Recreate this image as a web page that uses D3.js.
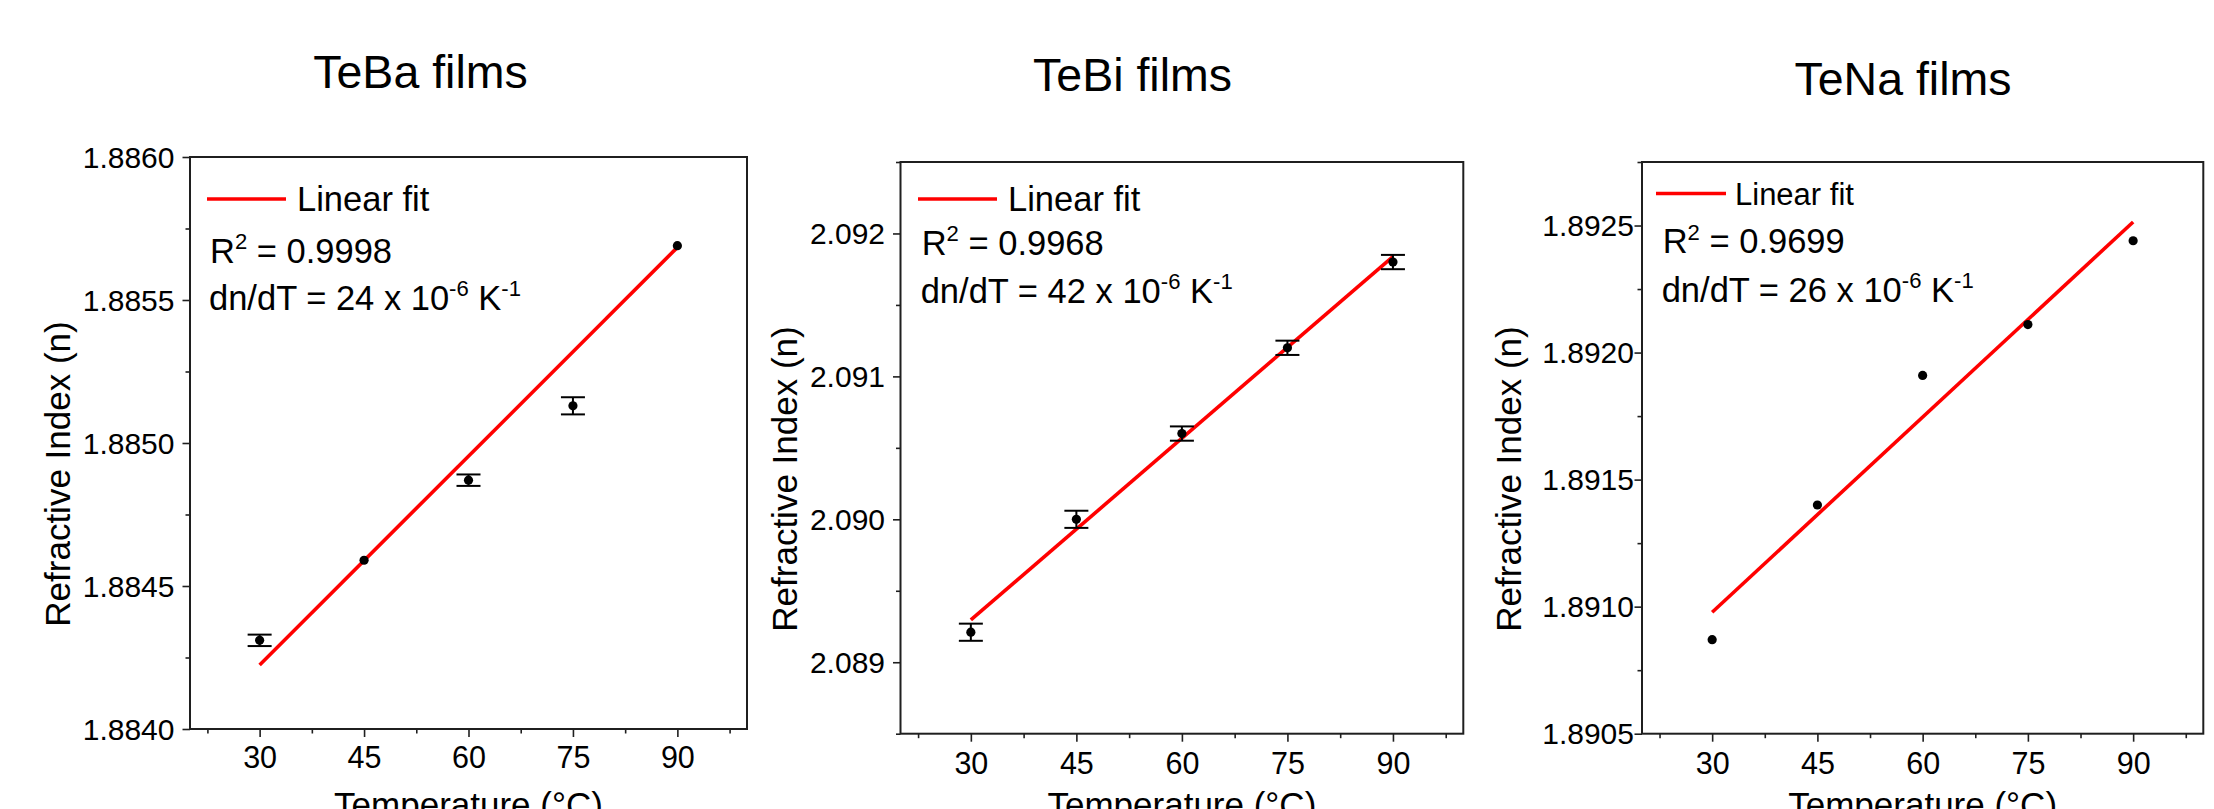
<!DOCTYPE html>
<html>
<head>
<meta charset="utf-8">
<script src="https://cdn.jsdelivr.net/npm/d3@7"></script>
<style>
  html, body { margin: 0; padding: 0; background: #fff; }
  svg { display: block; font-family: Arial, "Liberation Sans", sans-serif; }
  text { white-space: pre; }
</style>
</head>
<body>
<svg id="chart" width="2214" height="809"></svg>
<script>
// temperatures shared by all three films (°C)
const temperatures = [30, 45, 60, 75, 90];
const xTickValues = [30, 45, 60, 75, 90];
const xDomain = [20, 100];
const fitRange = [30, 90];

// TeBa films
const tebaIndex = [1.88431, 1.88459, 1.88487, 1.88513, 1.88569];
const tebaError = [0.00002, 0, 0.00002, 0.00003, 0];
const tebaFit = [1.884224, 1.885684];
const tebaYTicks = [1.8840, 1.8845, 1.8850, 1.8855, 1.8860];
const tebaYDomain = [1.8840, 1.8860];

// TeBi films
const tebiIndex = [2.08921, 2.09000, 2.09060, 2.09120, 2.09180];
const tebiError = [0.00006, 0.00006, 0.00005, 0.00005, 0.00005];
const tebiFit = [2.089296, 2.091838];
const tebiYTicks = [2.089, 2.090, 2.091, 2.092];
const tebiYDomain = [2.0885, 2.0925];

// TeNa films (no error bars)
const tenaIndex = [1.89087, 1.89140, 1.89191, 1.89211, 1.89244];
const tenaError = [0, 0, 0, 0, 0];
const tenaFit = [1.890978, 1.892514];
const tenaYTicks = [1.8905, 1.8910, 1.8915, 1.8920, 1.8925];
const tenaYDomain = [1.8905, 1.89275];

const titles = ["TeBa films", "TeBi films", "TeNa films"];
const rSquared = ["0.9998", "0.9968", "0.9699"];
const dnDT = ["24", "42", "26"];

// layout of each panel (positions only)
const panels = [
  { values: tebaIndex, errors: tebaError, fit: tebaFit, yTicks: tebaYTicks, yDomain: tebaYDomain, yFormat: ".4f",
    left: 190, right: 747, top: 157, bottom: 729,
    titleX: 420.5, titleY: 88, yTitleX: 70, yTitleY: 474, xTitleY: 817,
    yPad: 8, xPad: 9,
    legend: { lx1: 207, lx2: 286, ly: 199, tx: 297, ty: 211, fs: 34.5, rx: 210, ry: 263, dy: 310 } },
  { values: tebiIndex, errors: tebiError, fit: tebiFit, yTicks: tebiYTicks, yDomain: tebiYDomain, yFormat: ".3f",
    left: 900.5, right: 1463.3, top: 162, bottom: 733.7,
    titleX: 1132.5, titleY: 91, yTitleX: 796.5, yTitleY: 479, xTitleY: 817,
    yPad: 8, xPad: 10.5,
    legend: { lx1: 918, lx2: 997, ly: 199, tx: 1008, ty: 211, fs: 34.5, rx: 921.7, ry: 255, dy: 303 } },
  { values: tenaIndex, errors: tenaError, fit: tenaFit, yTicks: tenaYTicks, yDomain: tenaYDomain, yFormat: ".4f",
    left: 1642, right: 2203.3, top: 162, bottom: 733.7,
    titleX: 1903, titleY: 95, yTitleX: 1521, yTitleY: 479, xTitleY: 817,
    yPad: 0.5, xPad: 10.5,
    legend: { lx1: 1656, lx2: 1726, ly: 193.5, tx: 1735, ty: 204.5, fs: 31, rx: 1662.7, ry: 253.3, dy: 301.7 } }
];

const svg = d3.select("#chart");
const ink = "#1f1f1f";

// text with superscripts, parts = [[text, isSup], ...]
function richText(g, x, y, parts, size) {
  const t = g.append("text").attr("x", x).attr("y", y)
    .attr("font-size", size).attr("fill", "#000");
  const shift = size * 0.4;
  let raised = false;
  parts.forEach(([s, sup]) => {
    const sp = t.append("tspan").text(s);
    if (sup && !raised) { sp.attr("dy", -shift).attr("font-size", size * 0.64); raised = true; }
    else if (sup) { sp.attr("font-size", size * 0.64); }
    else if (raised) { sp.attr("dy", shift); raised = false; }
  });
  return t;
}

function minorTicks(major, domain) {
  const step = major[1] - major[0];
  const out = [];
  for (let v = major[0] - step / 2; v <= domain[1] + 1e-9; v += step) {
    if (v >= domain[0] - 1e-9) out.push(+v.toFixed(6));
  }
  return out;
}

panels.forEach((p, i) => {
  const g = svg.append("g");
  const x = d3.scaleLinear().domain(xDomain).range([p.left, p.right]);
  const y = d3.scaleLinear().domain(p.yDomain).range([p.bottom, p.top]);

  // title
  g.append("text")
    .attr("x", p.titleX).attr("y", p.titleY)
    .attr("text-anchor", "middle").attr("font-size", 46.5)
    .text(titles[i]);

  // minor ticks
  g.append("g")
    .attr("transform", `translate(0,${p.bottom})`)
    .attr("color", ink)
    .call(d3.axisBottom(x).tickValues(minorTicks(xTickValues, xDomain)).tickSize(4.5).tickFormat(""))
    .call(a => a.select(".domain").remove())
    .selectAll("line").attr("stroke-width", 1.6);
  g.append("g")
    .attr("transform", `translate(${p.left},0)`)
    .attr("color", ink)
    .call(d3.axisLeft(y).tickValues(minorTicks(p.yTicks, p.yDomain)).tickSize(4.5).tickFormat(""))
    .call(a => a.select(".domain").remove())
    .selectAll("line").attr("stroke-width", 1.6);

  // major ticks + labels
  const xa = g.append("g")
    .attr("transform", `translate(0,${p.bottom})`)
    .attr("color", ink)
    .call(d3.axisBottom(x).tickValues(xTickValues).tickSize(8).tickPadding(p.xPad).tickFormat(d3.format("d")))
    .call(a => a.select(".domain").remove())
    .attr("font-family", null).attr("font-size", null);
  xa.selectAll("line").attr("stroke-width", 1.6);
  xa.selectAll("text").attr("font-size", 30.5).attr("fill", "#000");

  const ya = g.append("g")
    .attr("transform", `translate(${p.left},0)`)
    .attr("color", ink)
    .call(d3.axisLeft(y).tickValues(p.yTicks).tickSize(7.5).tickPadding(p.yPad).tickFormat(d3.format(p.yFormat)))
    .call(a => a.select(".domain").remove())
    .attr("font-family", null).attr("font-size", null);
  ya.selectAll("line").attr("stroke-width", 1.6);
  ya.selectAll("text").attr("font-size", 30).attr("fill", "#000").attr("dy", "0.34em");

  // frame
  g.append("rect")
    .attr("x", p.left).attr("y", p.top)
    .attr("width", p.right - p.left).attr("height", p.bottom - p.top)
    .attr("fill", "none").attr("stroke", ink).attr("stroke-width", 2);

  // axis titles
  g.append("text")
    .attr("transform", `translate(${p.yTitleX},${p.yTitleY}) rotate(-90)`)
    .attr("text-anchor", "middle").attr("font-size", 35)
    .text("Refractive Index (n)");
  g.append("text")
    .attr("x", (p.left + p.right) / 2).attr("y", p.xTitleY)
    .attr("text-anchor", "middle").attr("font-size", 35)
    .text("Temperature (°C)");

  // linear fit
  const line = d3.line().x(d => x(d[0])).y(d => y(d[1]));
  g.append("path")
    .attr("d", line(fitRange.map((t, k) => [t, p.fit[k]])))
    .attr("fill", "none").attr("stroke", "#ff0000").attr("stroke-width", 3.6);

  // error bars
  const rows = temperatures.map((t, k) => ({ t, v: p.values[k], e: p.errors[k] }));
  const eb = g.append("g").attr("stroke", "#000").attr("stroke-width", 2)
    .selectAll("g").data(rows.filter(d => d.e > 0)).enter().append("g");
  eb.append("line")
    .attr("x1", d => x(d.t)).attr("x2", d => x(d.t))
    .attr("y1", d => y(d.v - d.e)).attr("y2", d => y(d.v + d.e));
  eb.append("line")
    .attr("x1", d => x(d.t) - 12).attr("x2", d => x(d.t) + 12)
    .attr("y1", d => y(d.v + d.e)).attr("y2", d => y(d.v + d.e));
  eb.append("line")
    .attr("x1", d => x(d.t) - 12).attr("x2", d => x(d.t) + 12)
    .attr("y1", d => y(d.v - d.e)).attr("y2", d => y(d.v - d.e));

  // points
  g.append("g").selectAll("circle").data(rows).enter().append("circle")
    .attr("cx", d => x(d.t)).attr("cy", d => y(d.v))
    .attr("r", 4.6).attr("fill", "#000");

  // legend
  const L = p.legend;
  g.append("line")
    .attr("x1", L.lx1).attr("x2", L.lx2).attr("y1", L.ly).attr("y2", L.ly)
    .attr("stroke", "#ff0000").attr("stroke-width", 3.4);
  g.append("text").attr("x", L.tx).attr("y", L.ty).attr("font-size", L.fs).text("Linear fit");
  richText(g, L.rx, L.ry, [["R"], ["2", true], [" = " + rSquared[i]]], 34.5);
  richText(g, L.rx - 1, L.dy, [["dn/dT = " + dnDT[i] + " x 10"], ["-6", true], [" K"], ["-1", true]], 34.5);
});
</script>
</body>
</html>
